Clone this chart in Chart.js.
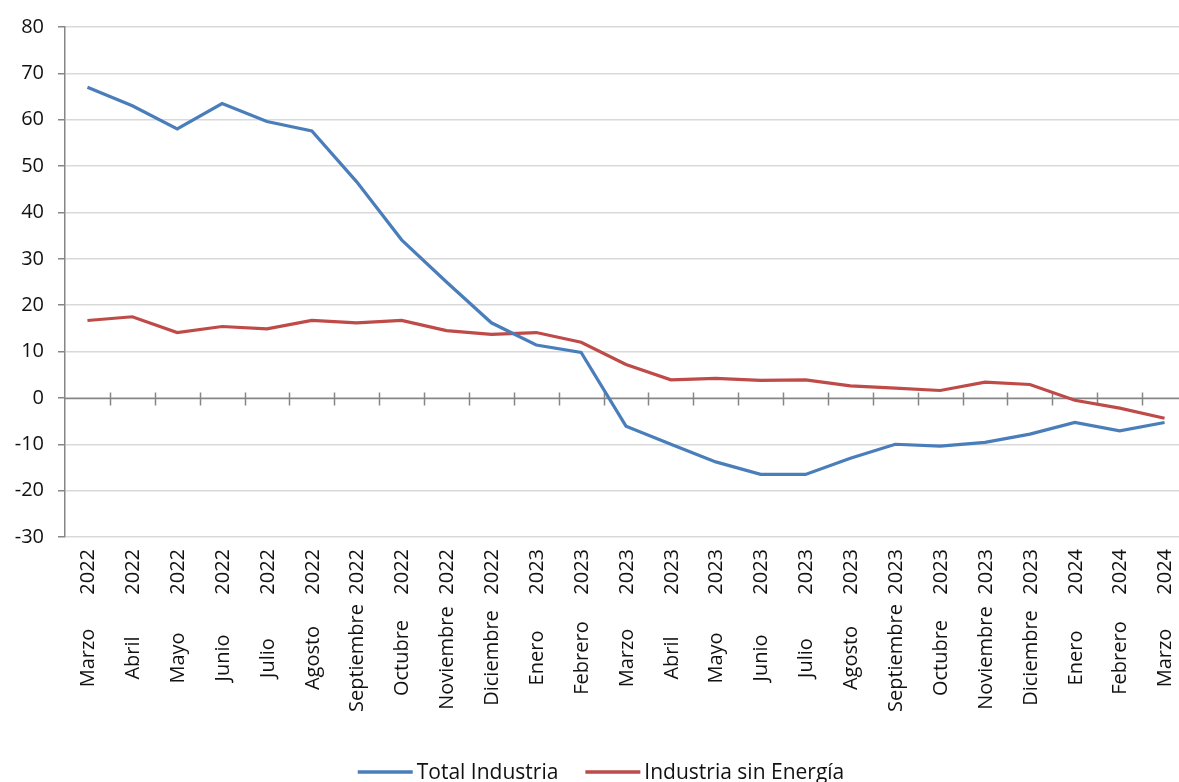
<!DOCTYPE html>
<html lang="es">
<head>
<meta charset="utf-8">
<title>Total Industria vs Industria sin Energía</title>
<script src="https://cdn.jsdelivr.net/npm/chart.js@4.4.1/dist/chart.umd.min.js"></script>
<style>
    html, body {
        margin: 0;
        padding: 0;
        background: #ffffff;
        overflow: hidden;
    }
    .viewport {
        width: 1179px;
        height: 782px;
        overflow: hidden;
    }
    .chart-box {
        position: relative;
        width: 1200px;
        height: 782px;
    }
</style>
</head>
<body>
<div class="viewport">
    <div class="chart-box">
        <canvas id="industryChart"></canvas>
    </div>
</div>

<script>
// Chart data
const months = [
    "Marzo", "Abril", "Mayo", "Junio", "Julio", "Agosto", "Septiembre", "Octubre",
    "Noviembre", "Diciembre", "Enero", "Febrero", "Marzo", "Abril", "Mayo", "Junio",
    "Julio", "Agosto", "Septiembre", "Octubre", "Noviembre", "Diciembre", "Enero",
    "Febrero", "Marzo"
];
const years = [
    "2022", "2022", "2022", "2022", "2022", "2022", "2022", "2022",
    "2022", "2022", "2023", "2023", "2023", "2023", "2023", "2023",
    "2023", "2023", "2023", "2023", "2023", "2023", "2024",
    "2024", "2024"
];
const totalIndustria = [
    67.0, 63.0, 58.0, 63.5, 59.6, 57.6, 46.6, 34.1,
    25.0, 16.2, 11.4, 9.8, -6.1, -10.0, -13.8, -16.5,
    -16.5, -13.0, -10.0, -10.4, -9.6, -7.8, -5.3,
    -7.1, -5.3
];
const industriaSinEnergia = [
    16.7, 17.5, 14.1, 15.4, 14.9, 16.7, 16.2, 16.7,
    14.5, 13.7, 14.1, 12.0, 7.2, 3.9, 4.2, 3.8,
    3.9, 2.6, 2.1, 1.6, 3.4, 2.9, -0.5,
    -2.2, -4.4
];
const yTicks = [-30, -20, -10, 0, 10, 20, 30, 40, 50, 60, 70, 80];

const FONT = "'Open Sans', 'Noto Sans', sans-serif";
const AXIS_GRAY = "#868686";
const TEXT_COLOR = "#111111";

// Zero axis line with cross tick marks between categories
const zeroAxisPlugin = {
    id: "zeroAxis",
    beforeDatasetsDraw(chart) {
        const { ctx, chartArea, scales } = chart;
        const x = scales.x;
        const y0 = Math.round(scales.y.getPixelForValue(0)) + 0.5;
        ctx.save();
        ctx.strokeStyle = AXIS_GRAY;
        ctx.lineWidth = 1.5;
        ctx.beginPath();
        ctx.moveTo(chartArea.left, y0);
        ctx.lineTo(chartArea.right, y0);
        for (let i = 1; i < months.length; i++) {
            const bx = Math.round((x.getPixelForValue(i - 1) + x.getPixelForValue(i)) / 2) + 0.5;
            ctx.moveTo(bx, y0 - 6);
            ctx.lineTo(bx, y0 + 7);
        }
        ctx.stroke();
        ctx.restore();
    }
};

// Rotated category labels and bottom legend
const labelsPlugin = {
    id: "labelsAndLegend",
    afterDraw(chart) {
        const { ctx, scales } = chart;
        const x = scales.x;
        ctx.save();
        ctx.fillStyle = TEXT_COLOR;
        ctx.font = "20px " + FONT;
        ctx.textBaseline = "middle";
        months.forEach((m, i) => {
            const px = x.getPixelForValue(i);
            ctx.save();
            ctx.translate(px, 549);
            ctx.rotate(-Math.PI / 2);
            ctx.textAlign = "right";
            ctx.fillText(years[i], 0, 1);
            ctx.restore();

            ctx.save();
            ctx.translate(px, 658);
            ctx.rotate(-Math.PI / 2);
            ctx.textAlign = "center";
            ctx.fillText(m, 0, 1);
            ctx.restore();
        });

        // legend
        ctx.font = "21px " + FONT;
        const items = chart.data.datasets.map(ds => ({
            label: ds.label,
            color: ds.borderColor,
            width: ctx.measureText(ds.label).width
        }));
        const lineLen = 55, gap = 4, itemGap = 27;
        let total = 0;
        items.forEach((it, i) => {
            total += lineLen + gap + it.width + (i < items.length - 1 ? itemGap : 0);
        });
        let lx = 601 - total / 2;
        const ly = 772;
        ctx.textAlign = "left";
        items.forEach(it => {
            ctx.strokeStyle = it.color;
            ctx.lineWidth = 3.5;
            ctx.beginPath();
            ctx.moveTo(lx, ly);
            ctx.lineTo(lx + lineLen, ly);
            ctx.stroke();
            ctx.fillText(it.label, lx + lineLen + gap, ly + 1);
            lx += lineLen + gap + it.width + itemGap;
        });
        ctx.restore();
    }
};

document.addEventListener("DOMContentLoaded", () => {
    const ctx = document.getElementById("industryChart").getContext("2d");

    new Chart(ctx, {
        type: "line",
        data: {
            labels: months.map((m, i) => m + " " + years[i]),
            datasets: [
                {
                    label: "Total Industria",
                    data: totalIndustria,
                    borderColor: "#4a7ebb",
                    backgroundColor: "#4a7ebb",
                    borderWidth: 3.2,
                    pointRadius: 0,
                    tension: 0
                },
                {
                    label: "Industria sin Energía",
                    data: industriaSinEnergia,
                    borderColor: "#be4b48",
                    backgroundColor: "#be4b48",
                    borderWidth: 3.2,
                    pointRadius: 0,
                    tension: 0
                }
            ]
        },
        options: {
            responsive: true,
            maintainAspectRatio: false,
            animation: false,
            layout: {
                padding: { left: 0, right: 13, top: 27, bottom: 0 }
            },
            scales: {
                x: {
                    type: "category",
                    offset: true,
                    grid: { display: false },
                    border: { display: false },
                    ticks: { display: false },
                    afterFit(scale) {
                        scale.height = 245;
                    }
                },
                y: {
                    min: -30,
                    max: 80,
                    afterBuildTicks(scale) {
                        scale.ticks = yTicks.map(v => ({ value: v }));
                    },
                    grid: {
                        color: "#d9d9d9",
                        lineWidth: 1.5,
                        tickLength: 7,
                        tickColor: AXIS_GRAY,
                        tickWidth: 1.5
                    },
                    border: {
                        display: true,
                        color: AXIS_GRAY,
                        width: 1.5
                    },
                    ticks: {
                        color: TEXT_COLOR,
                        font: { family: FONT, size: 20 },
                        padding: 14
                    },
                    afterFit(scale) {
                        scale.width = 65;
                    }
                }
            },
            plugins: {
                legend: { display: false },
                tooltip: { enabled: false }
            }
        },
        plugins: [zeroAxisPlugin, labelsPlugin]
    });
});
</script>
</body>
</html>
